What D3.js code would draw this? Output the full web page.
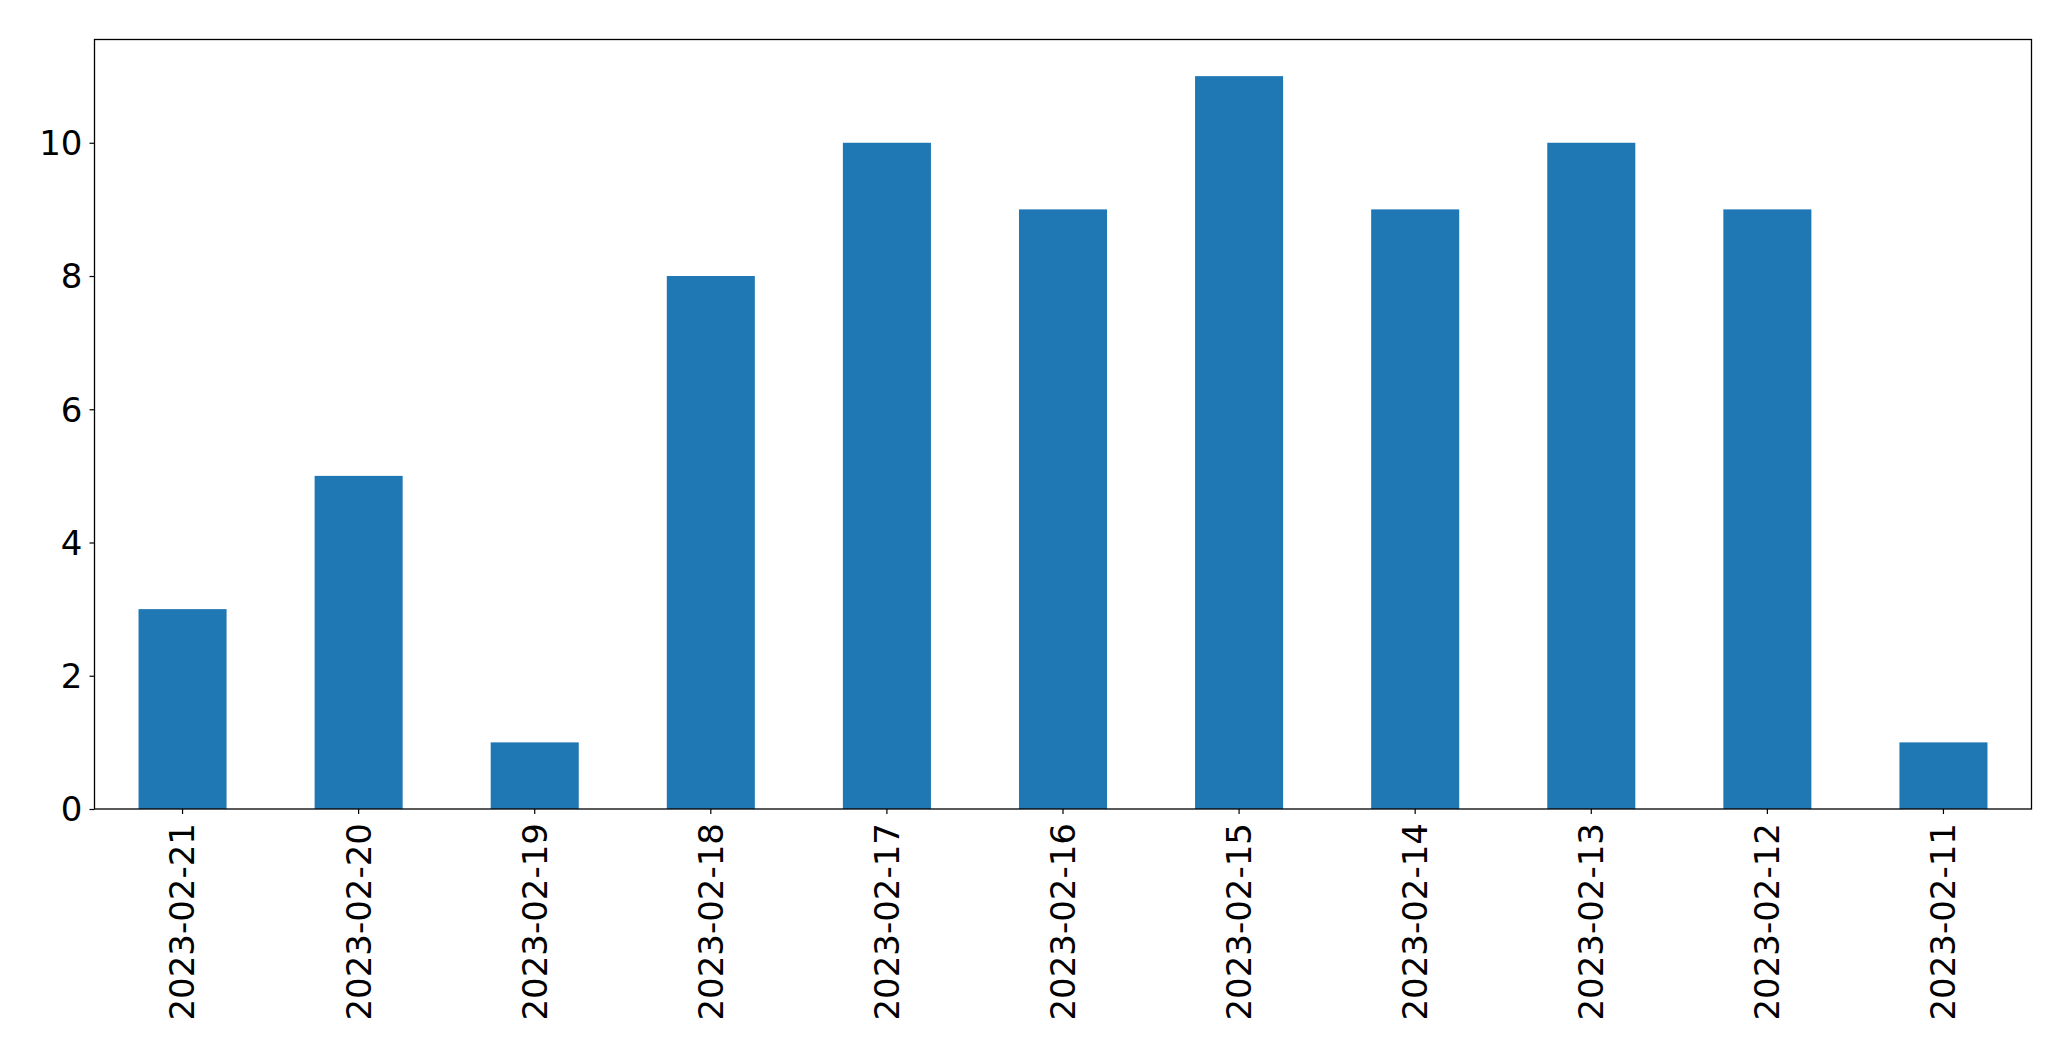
<!DOCTYPE html>
<html>
<head>
<meta charset="utf-8">
<script src="https://cdn.jsdelivr.net/npm/d3@7"></script>
<style>
html,body{margin:0;padding:0;background:#fff;}
svg text{font-family:"DejaVu Sans",sans-serif;fill:#000;}
</style>
</head>
<body>
<svg id="chart" width="2071" height="1061"></svg>
<script>
const categories = ["2023-02-21","2023-02-20","2023-02-19","2023-02-18","2023-02-17","2023-02-16","2023-02-15","2023-02-14","2023-02-13","2023-02-12","2023-02-11"];
const counts = [3,5,1,8,10,9,11,9,10,9,1];
const yTicks = [0,2,4,6,8,10];

const svg = d3.select("#chart");
const mLeft = 94.5, mRight = 2031.5, mTop = 39.5, mBottom = 809;

const x = d3.scaleBand().domain(categories).range([mLeft, mRight]).paddingInner(0.5).paddingOuter(0.25);
const yMax = d3.max(counts) * 1.05;
const y = d3.scaleLinear().domain([0, yMax]).range([mBottom, mTop]);

svg.append("g").selectAll("rect").data(categories).join("rect")
  .attr("x", d => x(d))
  .attr("width", x.bandwidth())
  .attr("y", (d,i) => y(counts[i]))
  .attr("height", (d,i) => y(0) - y(counts[i]))
  .attr("fill", "#1f77b4");

const fs = 34;
const xAxis = svg.append("g").attr("transform", `translate(0,${mBottom})`)
  .call(d3.axisBottom(x).tickSize(5).tickSizeOuter(0));
xAxis.select(".domain").remove();
xAxis.selectAll("line").attr("stroke", "#000").attr("stroke-width", 1.2);
xAxis.selectAll("text")
  .attr("font-size", fs)
  .attr("font-family", "DejaVu Sans")
  .attr("transform", "rotate(-90)")
  .attr("x", -14)
  .attr("y", 0)
  .attr("dy", "0.35em")
  .attr("text-anchor", "end");

const yAxis = svg.append("g").attr("transform", `translate(${mLeft},0)`)
  .call(d3.axisLeft(y).tickValues(yTicks).tickFormat(d3.format("d")).tickSize(5).tickPadding(7).tickSizeOuter(0));
yAxis.select(".domain").remove();
yAxis.selectAll("line").attr("stroke", "#000").attr("stroke-width", 1.2);
yAxis.selectAll("text").attr("font-size", fs).attr("font-family", "DejaVu Sans").attr("dy", "0.35em");

svg.append("rect")
  .attr("x", mLeft).attr("y", mTop)
  .attr("width", mRight - mLeft).attr("height", mBottom - mTop)
  .attr("fill", "none").attr("stroke", "#000").attr("stroke-width", 1.3);
</script>
</body>
</html>
